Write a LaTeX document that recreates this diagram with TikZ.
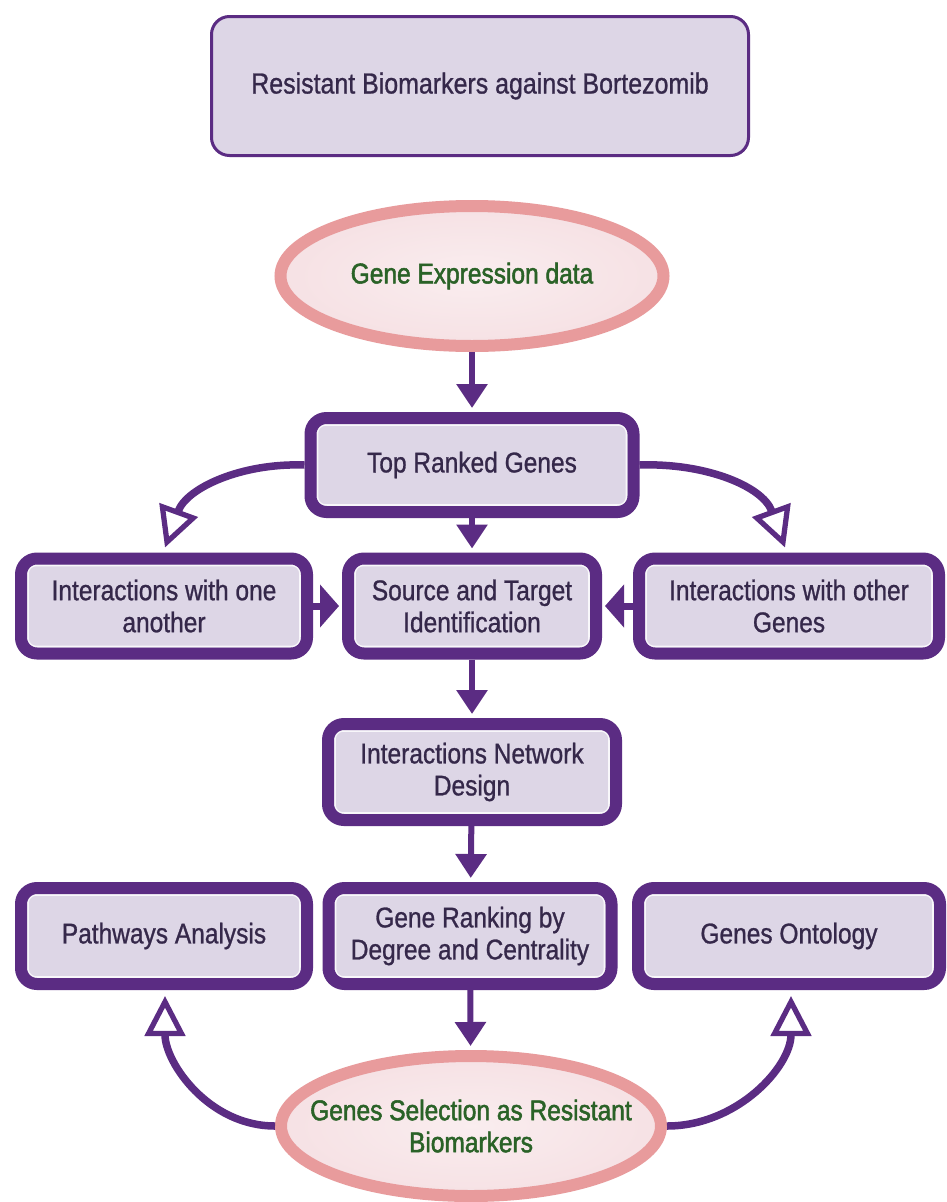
\documentclass[tikz,border=0pt]{standalone}
\usepackage{fontspec}
\setmainfont{Liberation Sans}
\usetikzlibrary{arrows.meta,shapes.geometric}
% narrowed, slightly heavier faces for the labels
\font\boxface="Liberation Sans:extend=0.86;embolden=0.9" at 28.5pt
\font\titleface="Liberation Sans:extend=0.86;embolden=0.9" at 29pt
\font\ovalface="Liberation Sans:extend=0.86;embolden=1.8" at 28.5pt
\definecolor{plum}{HTML}{5B2C83}
\definecolor{lav}{HTML}{DDD6E6}
\definecolor{ink}{HTML}{35284A}
\definecolor{rosebd}{HTML}{E89B9C}
\definecolor{rosefill}{HTML}{F6E1E4}
\definecolor{leaf}{HTML}{2A6227}
\begin{document}
\begin{tikzpicture}[x=1pt,y=-1pt,
  stepbox/.style={font={\boxface\baselineskip=32pt}, align=center,
    draw=plum, line width=12pt, fill=lav, rounded corners=16pt,
    text=ink, inner sep=0pt, minimum height=95pt,
    path picture={\draw[white!80!lav,line width=1.6pt,rounded corners=8pt]
      ([shift={(7pt,7pt)}]path picture bounding box.south west) rectangle
      ([shift={(-7pt,-7pt)}]path picture bounding box.north east);}},
  titlebox/.style={draw=plum, line width=3pt, fill=lav, rounded corners=18pt,
    text=ink, inner sep=0pt, font=\titleface},
  oval/.style={font={\ovalface\baselineskip=32pt}, align=center,
    ellipse, draw=rosebd, line width=12pt, inner ysep=0pt,
    inner xsep=-40pt, inner color=rosefill!60!white, outer color=rosefill,
    text=leaf},
  flow/.style={draw=plum, line width=6pt, shorten >=4pt,
    -{Triangle[width=30pt,length=24pt]}},
  sideflow/.style={draw=plum, line width=7pt, shorten >=3pt,
    -{Triangle[width=42pt,length=19pt]}},
  hollow/.style={draw=plum, line width=7.5pt,
    -{Triangle[open,fill=white,width=40pt,length=40pt,line width=0pt 0.7]}}
]
\useasboundingbox (0,0) rectangle (947,1202);
\fill[white] (0,0) rectangle (947,1202);

% title
\node[titlebox, minimum width=537pt, minimum height=139pt] (title) at (480,86)
  {Resistant Biomarkers against Bortezomib};

% main flow
\node[oval, minimum width=383pt, minimum height=140pt] (ge) at (472,276)
  {Gene Expression data};
\node[stepbox, minimum width=323pt, minimum height=94pt] (tr) at (472,465)
  {Top Ranked Genes};
\node[stepbox, minimum width=286pt] (ia) at (164,606)
  {Interactions with one\\another};
\node[stepbox, minimum width=248pt] (st) at (472,606)
  {Source and Target\\Identification};
\node[stepbox, minimum width=300pt] (io) at (789,606)
  {Interactions with other\\Genes};
\node[stepbox, minimum width=288pt, minimum height=96pt] (nd) at (472,772)
  {Interactions Network\\Design};
\node[stepbox, minimum width=286pt, minimum height=96pt] (pa) at (164,936)
  {Pathways Analysis};
\node[stepbox, minimum width=283pt, minimum height=96pt] (gr) at (470,936)
  {Gene Ranking by\\Degree and Centrality};
\node[stepbox, minimum width=302pt, minimum height=96pt] (go) at (789,936)
  {Genes Ontology};
\node[oval, minimum width=380pt, minimum height=140pt] (sel) at (471,1126)
  {Genes Selection as Resistant\\Biomarkers};

% connectors
\draw[flow] (ge) -- (tr);
\draw[flow] (tr) -- (st);
\draw[sideflow] (ia.east) -- (st.west);
\draw[sideflow] (io.west) -- (st.east);
\draw[flow] (st) -- (nd);
\draw[flow] (nd) -- (gr);
\draw[flow] (gr) -- (sel);

\draw[hollow] (tr.west) to[out=178,in=70] ([xshift=1pt,yshift=5pt]ia.north);
\draw[hollow] (tr.east) to[out=2,in=110] ([xshift=-4pt,yshift=5pt]io.north);
\draw[hollow] (sel.west) to[out=180,in=-90] ([xshift=1pt,yshift=-6pt]pa.south);
\draw[hollow] (sel.east) to[out=0,in=-90] ([xshift=2pt,yshift=-6pt]go.south);
\end{tikzpicture}
\end{document}
